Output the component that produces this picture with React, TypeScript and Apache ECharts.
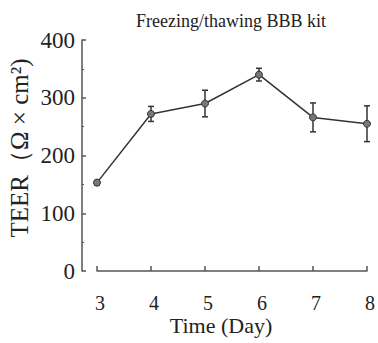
import React, { useEffect, useRef } from "react";
import * as echarts from "echarts";

const days = [3, 4, 5, 6, 7, 8];
const teer = [153, 272, 290, 340, 266, 255];
const teerErr = [4, 13, 23, 11, 25, 31];
const titleText = "Freezing/thawing BBB kit";
const xName = "Time (Day)";
const yName = "TEER（Ω × cm²)";

const FONT = "'Liberation Serif', 'Times New Roman', serif";

export default function App() {
  const ref = useRef<HTMLDivElement>(null);
  useEffect(() => {
    if (!ref.current) return;
    const chart = echarts.init(ref.current, null, { renderer: "svg" });
    const lineData = days.map((d, i) => [d, teer[i]]);
    const errData = days.map((d, i) => [d, teer[i] - teerErr[i], teer[i] + teerErr[i]]);
    chart.setOption({
      animation: false,
      backgroundColor: "#fff",
      title: {
        text: titleText,
        left: 226,
        top: 7,
        textAlign: "center",
        textStyle: { fontFamily: FONT, fontSize: 18, fontWeight: "normal", color: "#222" },
      },
      graphic: [
        {
          type: "text",
          x: 221,
          y: 325,
          style: {
            text: xName,
            fontFamily: FONT,
            fontSize: 22,
            fill: "#222",
            align: "center",
            verticalAlign: "middle",
          },
        },
        {
          type: "text",
          x: 19,
          y: 148,
          rotation: Math.PI / 2,
          style: {
            text: yName,
            fontFamily: FONT,
            fontSize: 25,
            fill: "#222",
            align: "center",
            verticalAlign: "middle",
          },
        },
      ],
      grid: { left: 97, right: 11, top: 40, bottom: 72 },
      xAxis: {
        type: "value",
        min: 3,
        max: 8,
        interval: 1,
        offset: 11,
        axisLine: { lineStyle: { color: "#555", width: 1.5 } },
        axisTick: { inside: true, length: 5, lineStyle: { color: "#555", width: 1.5 } },
        axisLabel: {
          fontFamily: FONT,
          fontSize: 20,
          color: "#222",
          margin: 11,
          padding: [0, 0, 0, 6],
        },
        splitLine: { show: false },
      },
      yAxis: {
        type: "value",
        min: 0,
        max: 400,
        interval: 100,
        offset: 15,
        axisLine: { show: true, lineStyle: { color: "#555", width: 1.5 } },
        axisTick: { show: true, inside: true, length: 4, lineStyle: { color: "#555", width: 1.5 } },
        minorTick: { show: true, splitNumber: 2, length: 2, lineStyle: { color: "#555" } },
        axisLabel: { fontFamily: FONT, fontSize: 23, color: "#222", margin: 7 },
        splitLine: { show: false },
      },
      series: [
        {
          type: "line",
          data: lineData,
          symbol: "circle",
          symbolSize: 7,
          lineStyle: { color: "#333", width: 1.5 },
          itemStyle: { color: "#777", borderColor: "#333", borderWidth: 1 },
          z: 3,
        },
        {
          type: "custom",
          data: errData,
          z: 2,
          renderItem: (params: any, api: any) => {
            const x = api.value(0);
            const lo = api.coord([x, api.value(1)]);
            const hi = api.coord([x, api.value(2)]);
            const w = 3;
            const style = { stroke: "#333", lineWidth: 1.5 };
            return {
              type: "group",
              children: [
                { type: "line", shape: { x1: lo[0], y1: lo[1], x2: hi[0], y2: hi[1] }, style },
                { type: "line", shape: { x1: lo[0] - w, y1: lo[1], x2: lo[0] + w, y2: lo[1] }, style },
                { type: "line", shape: { x1: hi[0] - w, y1: hi[1], x2: hi[0] + w, y2: hi[1] }, style },
              ],
            };
          },
        },
      ],
    });
    return () => chart.dispose();
  }, []);
  return (
    <div
      ref={ref}
      style={{ position: "absolute", left: 0, top: 0, width: 378, height: 343 }}
    />
  );
}
